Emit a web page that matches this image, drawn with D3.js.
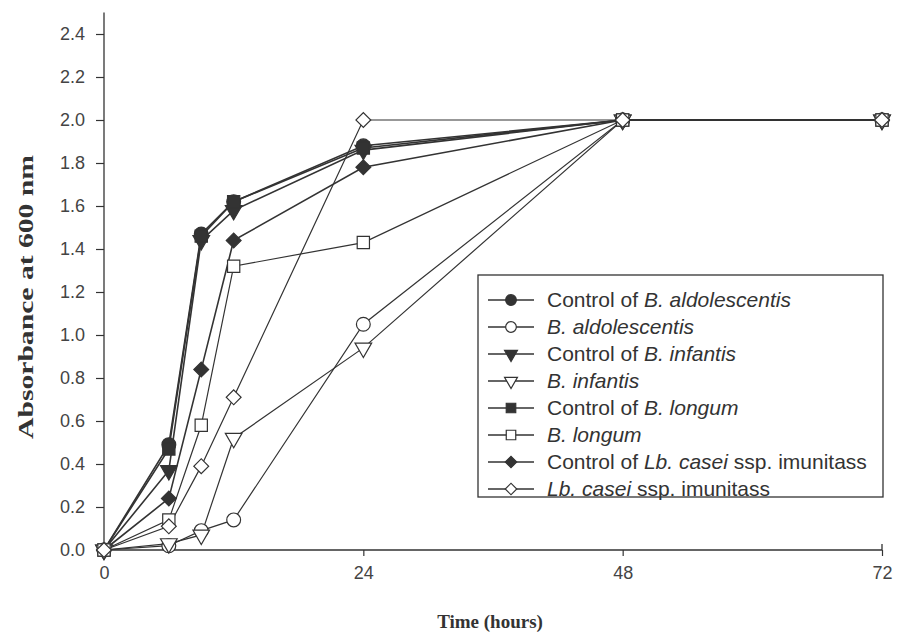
<!DOCTYPE html>
<html>
<head>
<meta charset="utf-8">
<script src="https://cdn.jsdelivr.net/npm/d3@7"></script>
<style>
  body { margin: 0; background: #fff; }
</style>
</head>
<body>
<div id="chart"></div>
<script>
'use strict';

// sampling times (hours)
const times = [0, 6, 9, 12, 24, 48, 72];

// absorbance values, one array per series
const ctrlAldo   = [0, 0.49, 1.47, 1.62, 1.88, 2.0, 2.0];
const aldo       = [0, 0.02, 0.09, 0.14, 1.05, 2.0, 2.0];
const ctrlInf    = [0, 0.37, 1.44, 1.58, 1.86, 2.0, 2.0];
const inf        = [0, 0.03, 0.07, 0.52, 0.94, 2.0, 2.0];
const ctrlLongum = [0, 0.47, 1.46, 1.62, 1.87, 2.0, 2.0];
const longum     = [0, 0.14, 0.58, 1.32, 1.43, 2.0, 2.0];
const ctrlCasei  = [0, 0.24, 0.84, 1.44, 1.78, 2.0, 2.0];
const casei      = [0, 0.11, 0.39, 0.71, 2.0, 2.0, 2.0];

const xTicks = [0, 24, 48, 72];
const yTicks = [0, 0.2, 0.4, 0.6, 0.8, 1.0, 1.2, 1.4, 1.6, 1.8, 2.0, 2.2, 2.4];

// legend labels as [text, italic] pieces
const series = [
    {values: ctrlAldo,   shape: 'circle',   filled: true,  label: [['Control of ', false], ['B. aldolescentis', true]]},
    {values: aldo,       shape: 'circle',   filled: false, label: [['B. aldolescentis', true]]},
    {values: ctrlInf,    shape: 'triangle', filled: true,  label: [['Control of ', false], ['B. infantis', true]]},
    {values: inf,        shape: 'triangle', filled: false, label: [['B. infantis', true]]},
    {values: ctrlLongum, shape: 'square',   filled: true,  label: [['Control of ', false], ['B. longum', true]]},
    {values: longum,     shape: 'square',   filled: false, label: [['B. longum', true]]},
    {values: ctrlCasei,  shape: 'diamond',  filled: true,  label: [['Control of ', false], ['Lb. casei', true], [' ssp. imunitass', false]]},
    {values: casei,      shape: 'diamond',  filled: false, label: [['Lb. casei', true], [' ssp. imunitass', false]]}
];

const WIDTH = 897, HEIGHT = 638;
const INK = '#333';
const SANS = 'Liberation Sans, Arial, sans-serif';
const SERIF = 'Liberation Serif, Times New Roman, serif';

const x = d3.scaleLinear().domain([0, 72]).range([104, 882]);
const y = d3.scaleLinear().domain([0, 2.5]).range([550, 12.5]);

const symbolType = {
    circle: d3.symbolCircle,
    triangle: d3.symbolTriangle,
    square: d3.symbolSquare,
    diamond: d3.symbolSquare   // square turned 45 degrees, like the figure
};
const symbolSize = {circle: 150, triangle: 120, square: 150, diamond: 110};

function symbolPath(shape, scale) {
    return d3.symbol().type(symbolType[shape]).size(symbolSize[shape] * (scale || 1))();
}

function symbolTransform(shape, px, py) {
    var t = 'translate(' + px + ',' + py + ')';
    if (shape === 'triangle') t += ' rotate(180)';   // triangles point down
    if (shape === 'diamond') t += ' rotate(45)';
    return t;
}

const svg = d3.select('#chart').append('svg')
    .attr('width', WIDTH)
    .attr('height', HEIGHT)
    .style('font-family', SANS);

// axes
const yAxis = d3.axisLeft(y).tickValues(yTicks).tickFormat(d3.format('.1f')).tickSize(8).tickPadding(11);
const gy = svg.append('g').attr('transform', 'translate(' + x(0) + ',0)').call(yAxis);
gy.select('.domain').attr('d', 'M0,' + y(2.5) + 'V' + y(0));

const xAxis = d3.axisBottom(x).tickValues(xTicks).tickSize(6).tickPadding(10);
const gx = svg.append('g').attr('transform', 'translate(0,' + y(0) + ')').call(xAxis);
gx.select('.domain').attr('d', 'M' + x(0) + ',0H' + x(72) + 'V-6');

svg.selectAll('.domain').attr('stroke', INK).attr('stroke-width', 1.3);
svg.selectAll('.tick line').attr('stroke', INK).attr('stroke-width', 1.2);
gy.selectAll('.tick text').attr('font-size', 18).attr('fill', '#444').attr('font-family', SANS);
gx.selectAll('.tick text').attr('font-size', 18).attr('fill', '#444')
    .attr('font-family', 'Liberation Sans Narrow, Arial Narrow, ' + SANS);

// axis titles
svg.append('text')
    .attr('x', 490).attr('y', 628)
    .attr('text-anchor', 'middle')
    .attr('font-family', SERIF)
    .attr('font-weight', 'bold').attr('font-size', 19)
    .attr('fill', '#333')
    .text('Time (hours)');

svg.append('text')
    .attr('transform', 'translate(33,297) rotate(-90)')
    .attr('text-anchor', 'middle')
    .attr('font-family', SERIF)
    .attr('font-weight', 'bold').attr('font-size', 20)
    .attr('textLength', 284).attr('lengthAdjust', 'spacingAndGlyphs')
    .attr('fill', '#333')
    .text('Absorbance at 600 nm');

// lines
const line = d3.line()
    .x((d, i) => x(times[i]))
    .y(d => y(d));

svg.append('g').selectAll('path')
    .data(series)
    .enter()
    .append('path')
    .attr('d', s => line(s.values))
    .attr('fill', 'none')
    .attr('stroke', INK)
    .attr('stroke-width', s => s.filled ? 1.6 : 1.2);

// markers, open ones drawn last so they sit on top like in the figure
const order = series.filter(s => s.filled).concat(series.filter(s => !s.filled));
order.forEach(function(s) {
    svg.append('g').selectAll('path')
        .data(s.values)
        .enter()
        .append('path')
        .attr('d', symbolPath(s.shape))
        .attr('transform', (d, i) => symbolTransform(s.shape, x(times[i]), y(d)))
        .attr('fill', s.filled ? INK : '#fff')
        .attr('stroke', INK)
        .attr('stroke-width', 1.2);
});

// legend
const legend = svg.append('g').attr('transform', 'translate(478,275)');
legend.append('rect')
    .attr('width', 405).attr('height', 222)
    .attr('fill', '#fff').attr('stroke', INK).attr('stroke-width', 1.3);

const rows = legend.selectAll('g.row')
    .data(series)
    .enter()
    .append('g')
    .attr('class', 'row')
    .attr('transform', (d, i) => 'translate(0,' + (25 + i * 27) + ')');

rows.append('line')
    .attr('x1', 10).attr('x2', 56)
    .attr('stroke', INK).attr('stroke-width', 1.5);

rows.append('path')
    .attr('d', s => symbolPath(s.shape, 0.6))
    .attr('transform', s => symbolTransform(s.shape, 33, 0))
    .attr('fill', s => s.filled ? INK : '#fff')
    .attr('stroke', INK)
    .attr('stroke-width', 1.2);

const labels = rows.append('text')
    .attr('x', 69).attr('y', 7)
    .attr('font-size', 21)
    .attr('fill', '#333');

labels.selectAll('tspan')
    .data(s => s.label)
    .enter()
    .append('tspan')
    .attr('font-style', d => d[1] ? 'italic' : 'normal')
    .text(d => d[0]);
</script>
</body>
</html>
